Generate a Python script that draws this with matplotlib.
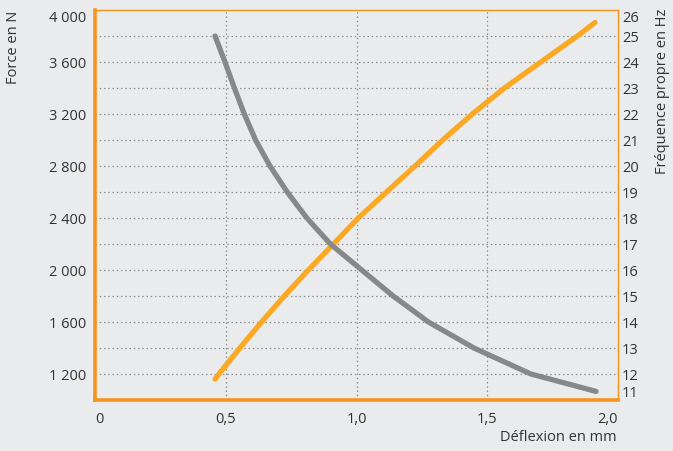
import numpy as np
import matplotlib
matplotlib.use("Agg")
import matplotlib.pyplot as plt

# values
defl_force = [0.459, 0.497, 0.533, 0.571, 0.614, 0.669, 0.735, 0.810, 0.900,
              1.020, 1.140, 1.275, 1.449, 1.667, 1.916]
force = [3800, 3600, 3400, 3200, 3000, 2800, 2600, 2400, 2200,
         2000, 1800, 1600, 1400, 1200, 1066]

defl_freq = [0.459, 0.474, 0.554, 0.637, 0.724, 0.816, 0.912, 1.007, 1.115,
             1.224, 1.330, 1.443, 1.566, 1.705, 1.845, 1.912]
freq = [11.8, 12, 13, 14, 15, 16, 17, 18, 19, 20, 21, 22, 23, 24, 25, 25.52]

x_ticks = [0, 0.5, 1.0, 1.5, 2.0]
x_labels = ["0", "0,5", "1,0", "1,5", "2,0"]
force_ticks = [1200, 1600, 2000, 2400, 2800, 3200, 3600, 4000]
force_labels = ["1 200", "1 600", "2 000", "2 400", "2 800", "3 200", "3 600", "4 000"]
freq_ticks = list(range(11, 27))

bg = "#EAEBED"
orange_spine = "#F7941D"
orange_line = "#FBA923"
grey_line = "#87888A"
txt = "#333333"

plt.rcParams["font.family"] = ["Open Sans", "DejaVu Sans"]
plt.rcParams["font.size"] = 10.5

fig = plt.figure(figsize=(6.73, 4.52), dpi=100, facecolor=bg)
ax = fig.add_axes([95 / 673, 1 - 401 / 452, 523 / 673, 390 / 452])
ax.set_facecolor(bg)
axf = ax.twinx()

# base axes: frequency (right side), owns x axis and the grid
ax.plot(defl_freq, freq, color=orange_line, lw=3.8, solid_capstyle="round",
        solid_joinstyle="round")
ax.set_ylim(11, 26)
ax.set_yticks(freq_ticks)
ax.yaxis.tick_right()
ax.set_xlim(0, 2.0)
ax.set_xticks(x_ticks, labels=x_labels)
ax.grid(True, color="#8E8E8E", ls=(0, (1.2, 2.2)), lw=0.9)
for gl in [ax.get_ygridlines()[0], ax.get_ygridlines()[-1],
           ax.get_xgridlines()[0], ax.get_xgridlines()[-1]]:
    gl.set_visible(False)
ax.tick_params(axis="y", length=0, pad=3, colors=txt, labelsize=10.5)
ax.tick_params(axis="x", length=0, pad=8, colors=txt, labelsize=10.5)
ylab = ax.get_yticklabels()
ylab[-1].set_va("top")
ylab[0].set_va("bottom")
xlab = ax.get_xticklabels()
xlab[0].set_ha("left")
xlab[-1].set_ha("right")

for side, w in [("left", 2.6), ("bottom", 2.6), ("top", 1.0), ("right", 1.0)]:
    ax.spines[side].set_color(orange_spine)
    ax.spines[side].set_linewidth(w)

# twin axes: force (left side)
axf.plot(defl_force, force, color=grey_line, lw=3.8, solid_capstyle="round",
         solid_joinstyle="round")
axf.set_ylim(1000, 4000)
axf.set_yticks(force_ticks, labels=force_labels)
axf.yaxis.tick_left()
axf.tick_params(axis="y", length=0, pad=6, colors=txt, labelsize=10.5)
axf.get_yticklabels()[-1].set_va("top")
for s in axf.spines.values():
    s.set_visible(False)

fig.text(14 / 673, 1 - 11 / 452, "Force en N", rotation=90, ha="center", va="top",
         color=txt, fontsize=10.5)
fig.text(663 / 673, 1 - 9 / 452, "Fréquence propre en Hz", rotation=90, ha="center",
         va="top", color=txt, fontsize=10.5)
fig.text(617 / 673, 1 - 438 / 452, "Déflexion en mm", ha="right", va="center",
         color=txt, fontsize=10.5)

fig.savefig("out.png", dpi=100, facecolor=bg)
